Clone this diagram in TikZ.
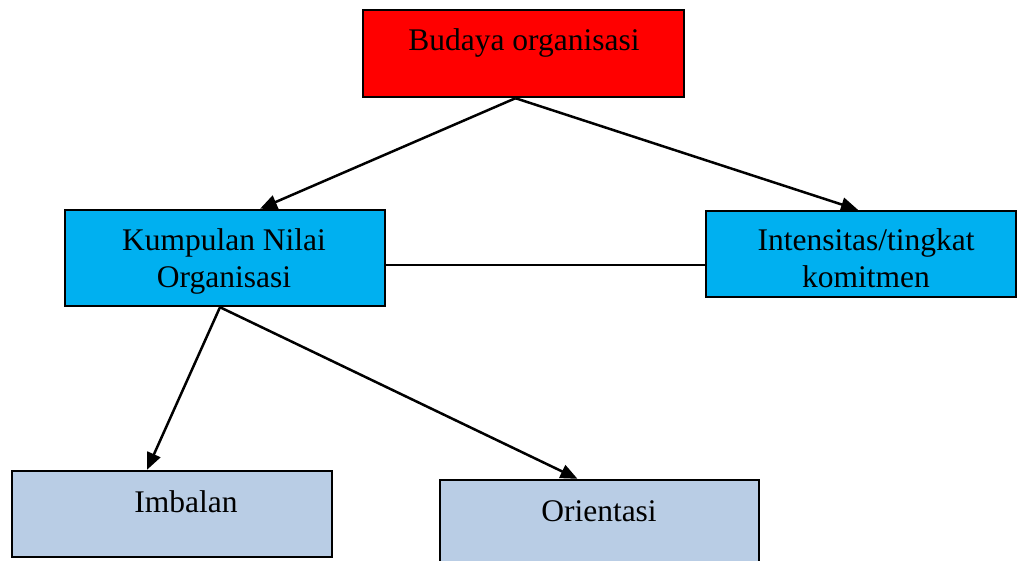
\documentclass[tikz,border=0pt]{standalone}
\usepackage{fontspec}
\setmainfont{Liberation Serif}
\usetikzlibrary{arrows.meta,calc}
\definecolor{topred}{RGB}{255,0,0}
\definecolor{midcyan}{RGB}{0,176,240}
\definecolor{lowblue}{RGB}{185,205,229}
\begin{document}
\begin{tikzpicture}[x=1pt,y=-1pt,
  box/.style={draw=black,line width=2.4pt,rectangle,inner sep=0pt},
  lbl/.style={anchor=base,inner sep=0pt,font=\fontsize{31.5}{37}\selectfont},
  link/.style={line width=2.5pt},
  arr/.style={link,-{Triangle[length=17pt,width=14pt]}}]
\useasboundingbox (0,0) rectangle (1017,560);
% boxes
\node[box,fill=topred,minimum width=321pt,minimum height=87pt] (bud) at (523.5,53.5) {};
\node[box,fill=midcyan,minimum width=320pt,minimum height=96pt] (kum) at (225,258) {};
\node[box,fill=midcyan,minimum width=310pt,minimum height=86pt] (int) at (861,254) {};
\node[box,fill=lowblue,minimum width=320pt,minimum height=86pt] (imb) at (172,514) {};
\node[box,fill=lowblue,minimum width=319pt,minimum height=90pt] (ori) at (599.5,525) {};
% labels
\node[lbl] (tbud) at (524,50) {Budaya organisasi};
\node[lbl] (tkum1) at (224,250) {Kumpulan Nilai};
\node[lbl] (tkum2) at (224,287) {Organisasi};
\node[lbl] (tint1) at (866,250) {Intensitas/tingkat};
\node[lbl] (tint2) at (866,287) {komitmen};
\node[lbl] (timb) at (186,512) {Imbalan};
\node[lbl] (tori) at (599,521) {Orientasi};
% connectors
\coordinate (bs) at ($(bud.south)+(-8,0)$);
\coordinate (ks) at ($(kum.south)+(-5,0)$);
\coordinate (kr) at ($(kum.east)+(0,7)$);
\draw[arr] (bs) -- ($(kum.north)+(35,0)$);
\draw[arr] (bs) -- ($(int.north)+(-3,0)$);
\draw[link] (kr) -- (kr -| int.west);
\draw[arr] (ks) -- ($(imb.north)+(-25,0)$);
\draw[arr] (ks) -- ($(ori.north)+(-22,0)$);
\end{tikzpicture}
\end{document}
